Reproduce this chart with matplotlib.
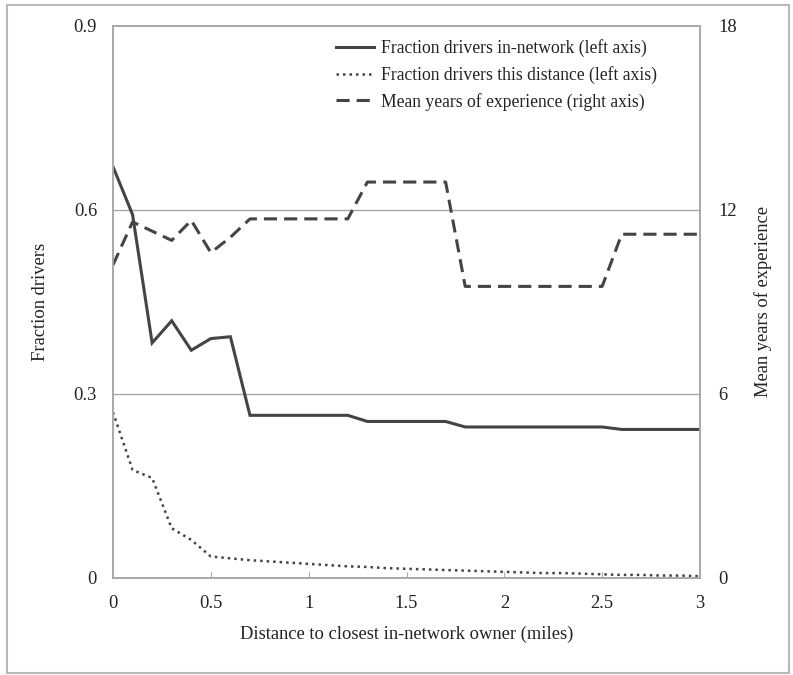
import matplotlib
matplotlib.use("Agg")
import matplotlib.pyplot as plt
from matplotlib.patches import Rectangle

plt.rcParams['font.family'] = ['Liberation Serif', 'DejaVu Serif']

distance = [0.0, 0.1, 0.2, 0.3, 0.4, 0.5, 0.6, 0.7, 0.8, 0.9, 1.0,
            1.1, 1.2, 1.3, 1.4, 1.5, 1.6, 1.7, 1.8, 1.9, 2.0,
            2.1, 2.2, 2.3, 2.4, 2.5, 2.6, 2.7, 2.8, 2.9, 3.0]

frac_in_network = [0.670, 0.592, 0.383, 0.419, 0.371, 0.390, 0.393, 0.265, 0.265, 0.265, 0.265,
                   0.265, 0.265, 0.255, 0.255, 0.255, 0.255, 0.255, 0.246, 0.246, 0.246,
                   0.246, 0.246, 0.246, 0.246, 0.246, 0.242, 0.242, 0.242, 0.242, 0.242]

frac_this_distance = [0.270, 0.176, 0.163, 0.081, 0.062, 0.035, 0.032, 0.029, 0.027, 0.025, 0.023,
                      0.021, 0.019, 0.018, 0.016, 0.015, 0.014, 0.013, 0.012, 0.011, 0.010,
                      0.009, 0.008, 0.008, 0.007, 0.006, 0.005, 0.005, 0.004, 0.004, 0.003]

mean_experience = [10.2, 11.6, 11.3, 11.0, 11.65, 10.6, 11.1, 11.7, 11.7, 11.7, 11.7,
                   11.7, 11.7, 12.9, 12.9, 12.9, 12.9, 12.9, 9.5, 9.5, 9.5,
                   9.5, 9.5, 9.5, 9.5, 9.5, 11.2, 11.2, 11.2, 11.2, 11.2]

x_ticks = [0, 0.5, 1, 1.5, 2, 2.5, 3]
x_tick_labels = ["0", "0.5", "1", "1.5", "2", "2.5", "3"]
left_ticks = [0, 0.3, 0.6, 0.9]
left_tick_labels = ["0", "0.3", "0.6", "0.9"]
right_ticks = [0, 6, 12, 18]
right_tick_labels = ["0", "6", "12", "18"]

line_color = '#444444'
spine_color = '#a8a8a8'
text_color = '#222222'
fs = 13.3
legend_fs = 12.7

fig = plt.figure(figsize=(7.93, 6.75), dpi=100)
fig.patches.append(Rectangle((7/793, 1-673/675), (789-7)/793, (673-5)/675,
                             transform=fig.transFigure, fill=False,
                             edgecolor='#b8b8b8', linewidth=1.5, zorder=-1))

ax = fig.add_axes([113/793, 1-578/675, (700-113)/793, (578-25.5)/675])
ax2 = ax.twinx()

ax.set_xlim(0, 3)
ax.set_ylim(0, 0.9)
ax2.set_ylim(0, 18)

for y in [0.3, 0.6]:
    ax.axhline(y, color='#a8a8a8', linewidth=1.0, zorder=0)

l1, = ax.plot(distance, frac_in_network, color=line_color, linewidth=2.2, solid_joinstyle='miter')
l2, = ax.plot(distance, frac_this_distance, color=line_color, linewidth=1.8,
              linestyle=(0, (1, 1.6)))
l3, = ax2.plot(distance, mean_experience, color=line_color, linewidth=2.2,
               linestyle=(0, (4.3, 2.3)))

ax.set_xticks(x_ticks)
ax.set_xticklabels(x_tick_labels)
ax.set_yticks(left_ticks)
ax.set_yticklabels(left_tick_labels)
ax2.set_yticks(right_ticks)
ax2.set_yticklabels(right_tick_labels)

ax.tick_params(axis='x', direction='in', length=4, color=spine_color, pad=12, labelsize=fs, labelcolor=text_color)
ax.tick_params(axis='y', length=0, pad=11.5, labelsize=fs, labelcolor=text_color)
ax2.tick_params(axis='y', length=0, pad=13, labelsize=fs, labelcolor=text_color)

for a in (ax, ax2):
    for s in a.spines.values():
        s.set_color(spine_color)
        s.set_linewidth(1.2)

ax.set_xlabel("Distance to closest in-network owner (miles)", fontsize=fs, color=text_color)
ax.set_ylabel("Fraction drivers", fontsize=fs, color=text_color)
ax2.set_ylabel("Mean years of experience", fontsize=fs, color=text_color)
ax.xaxis.set_label_coords(0.5, -0.087)
ax.yaxis.set_label_coords(-0.109, 0.5)
ax2.yaxis.set_label_coords(1.092, 0.5)

leg = ax.legend([l1, l2, l3],
                ["Fraction drivers in-network (left axis)",
                 "Fraction drivers this distance (left axis)",
                 "Mean years of experience (right axis)"],
                loc='upper right', bbox_to_anchor=(0.953, 1.004), frameon=False,
                fontsize=legend_fs, handlelength=2.2, handletextpad=0.35, labelspacing=0.5)
for t in leg.get_texts():
    t.set_color(text_color)

fig.savefig("out.png", dpi=100)
